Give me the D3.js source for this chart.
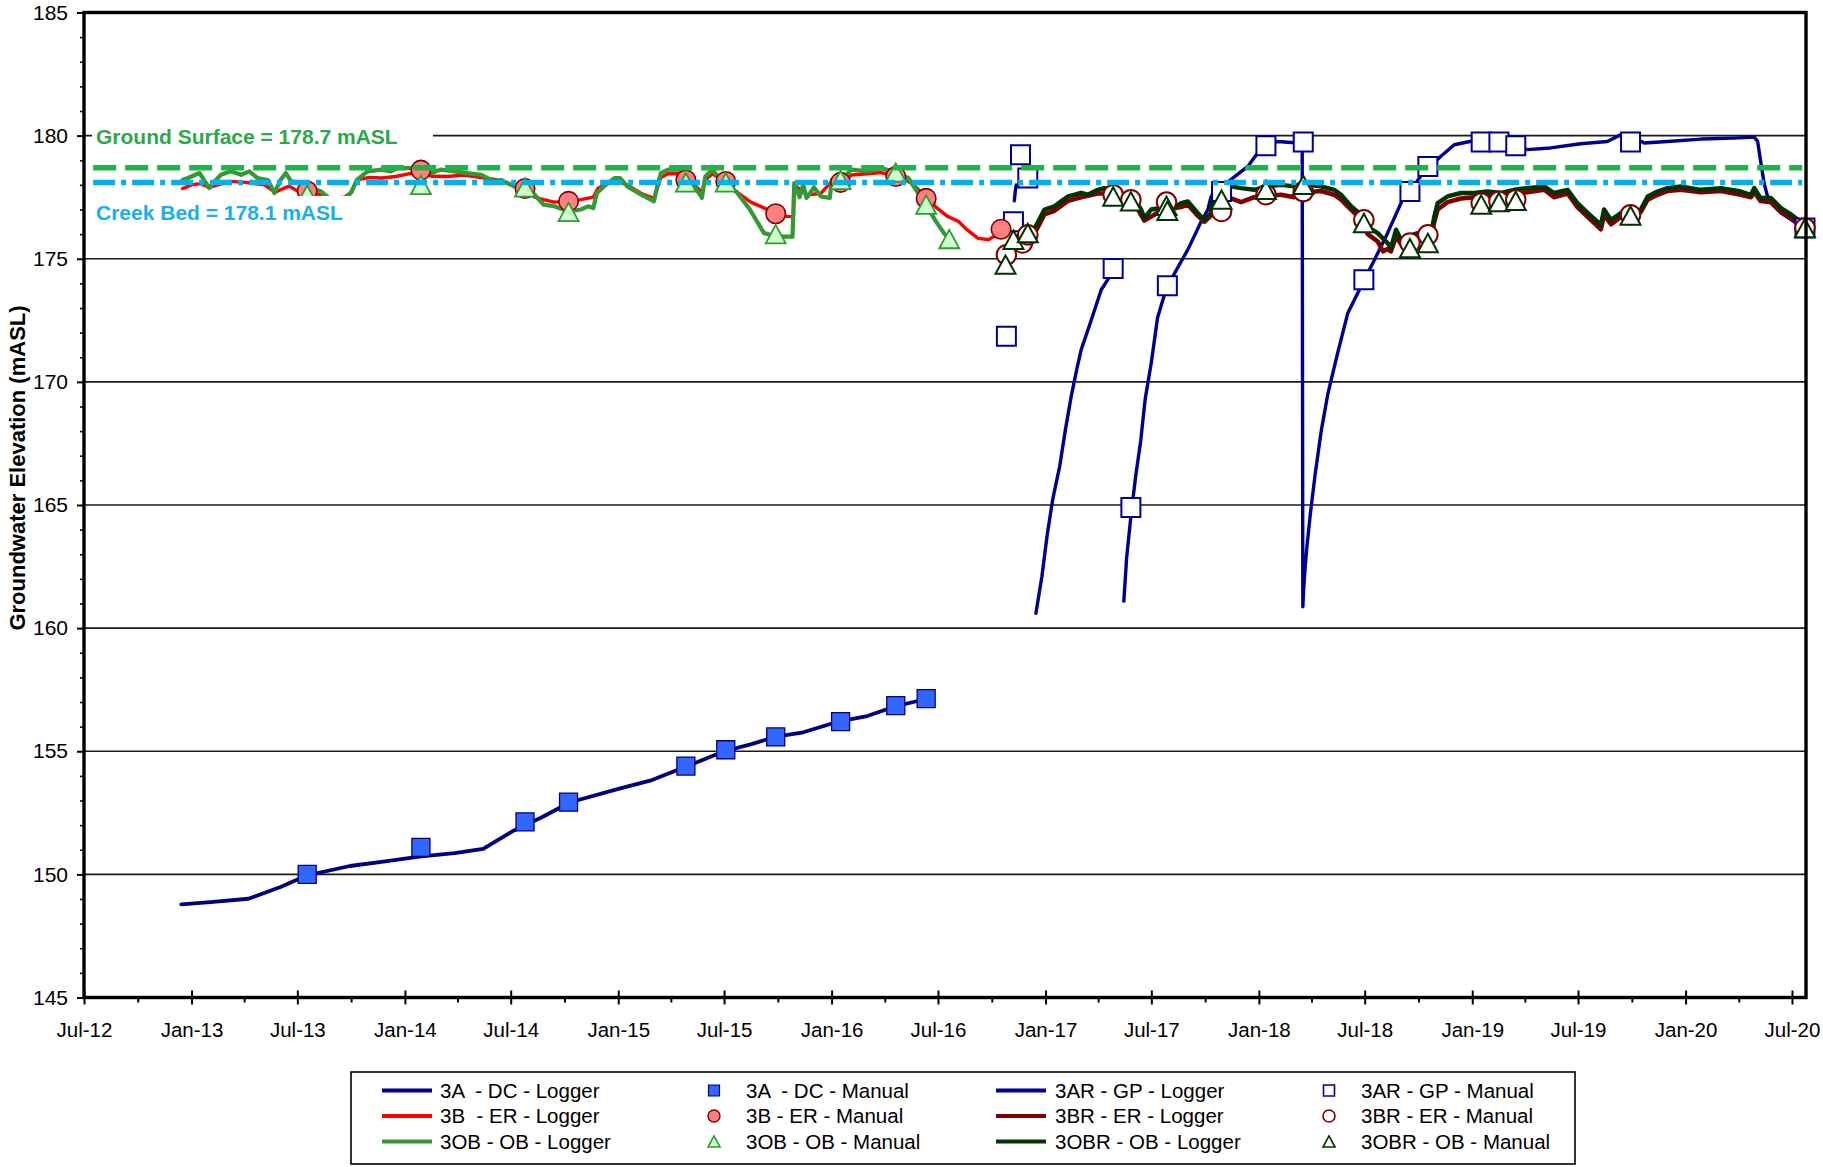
<!DOCTYPE html>
<html><head><meta charset="utf-8">
<script src="https://cdn.jsdelivr.net/npm/d3@7"></script>
<style>
body{margin:0;background:#fff}
text{font-family:"Liberation Sans",Arial,Helvetica,sans-serif}
</style>
</head><body>
<svg id="chart" width="1823" height="1167"></svg>
<script>
// ---------------- DATA (dates as decimal years, values in mASL) ----------------
const yTicks = [145,150,155,160,165,170,175,180,185];
const xTickLabels = ["Jul-12","Jan-13","Jul-13","Jan-14","Jul-14","Jan-15","Jul-15","Jan-16","Jul-16","Jan-17","Jul-17","Jan-18","Jul-18","Jan-19","Jul-19","Jan-20","Jul-20"];
const xMinorLabels = ["Oct-12","Apr-13","Oct-13","Apr-14","Oct-14","Apr-15","Oct-15","Apr-16","Oct-16","Apr-17","Oct-17","Apr-18","Oct-18","Apr-19","Oct-19","Apr-20"];

const groundSurface = 178.7;
const creekBed = 178.1;
const refSpan = [2012.54, 2020.545];

const logger3A = [[2012.952,148.78],[2013.088,148.87],[2013.267,149.01],[2013.417,149.49],[2013.542,149.96],[2013.742,150.34],[2013.908,150.53],[2014.067,150.72],[2014.233,150.86],[2014.367,151.04],[2014.504,151.75],[2014.642,152.32],[2014.775,152.93],[2014.992,153.45],[2015.158,153.83],[2015.325,154.40],[2015.5,155.01],[2015.625,155.29],[2015.733,155.58],[2015.867,155.77],[2016.029,156.20],[2016.167,156.43],[2016.292,156.81],[2016.383,157.0],[2016.467,157.18]];

const logger3B = [[2012.958,177.85],[2013.0,178.0],[2013.042,178.05],[2013.083,177.9],[2013.125,178.0],[2013.183,178.14],[2013.25,178.1],[2013.342,178.0],[2013.392,177.7],[2013.417,177.8],[2013.458,177.95],[2013.5,177.73],[2013.542,177.73],[2013.583,177.65],[2013.65,177.45],[2013.717,177.5],[2013.75,177.7],[2013.775,178.2],[2013.833,178.3],[2013.892,178.28],[2013.958,178.34],[2014.017,178.45],[2014.075,178.5],[2014.125,178.35],[2014.2,178.34],[2014.275,178.4],[2014.358,178.3],[2014.433,178.2],[2014.513,177.95],[2014.563,177.85],[2014.608,177.5],[2014.65,177.4],[2014.7,177.3],[2014.767,177.33],[2014.825,177.4],[2014.883,177.5],[2014.904,177.85],[2014.933,178.0],[2014.983,178.2],[2015.042,178.0],[2015.108,177.65],[2015.167,177.45],[2015.183,177.9],[2015.2,178.3],[2015.233,178.45],[2015.292,178.45],[2015.317,178.2],[2015.358,178.0],[2015.392,177.7],[2015.408,178.2],[2015.442,178.45],[2015.483,178.2],[2015.508,178.14],[2015.542,177.8],[2015.621,177.3],[2015.7,177.0],[2015.742,176.83],[2015.792,176.72],[2015.821,176.7],[2015.825,178.0],[2015.883,177.6],[2015.95,177.65],[2015.996,178.1],[2016.046,178.1],[2016.092,178.4],[2016.167,178.45],[2016.233,178.5],[2016.3,178.34],[2016.375,178.07],[2016.442,177.5],[2016.483,177.13],[2016.542,176.72],[2016.592,176.52],[2016.633,176.18],[2016.683,175.84],[2016.733,175.77],[2016.758,175.9],[2016.8,176.2]];

const logger3OB = [[2012.958,178.2],[2012.983,178.28],[2013.038,178.48],[2013.058,178.2],[2013.083,177.87],[2013.108,178.14],[2013.138,178.41],[2013.183,178.55],[2013.233,178.41],[2013.271,178.55],[2013.308,178.28],[2013.358,178.2],[2013.388,177.67],[2013.417,178.2],[2013.442,178.48],[2013.467,178.14],[2013.517,178.07],[2013.55,177.9],[2013.608,177.73],[2013.667,177.3],[2013.717,177.4],[2013.75,177.73],[2013.775,178.2],[2013.825,178.55],[2013.892,178.62],[2013.933,178.55],[2013.967,178.68],[2014.033,178.68],[2014.075,178.41],[2014.125,178.48],[2014.167,178.62],[2014.233,178.55],[2014.292,178.48],[2014.358,178.41],[2014.417,178.14],[2014.45,178.2],[2014.513,177.94],[2014.563,177.8],[2014.608,177.6],[2014.65,177.2],[2014.7,177.13],[2014.767,176.92],[2014.825,177.0],[2014.858,177.13],[2014.883,177.06],[2014.9,177.67],[2014.933,177.94],[2014.983,178.28],[2015.008,178.28],[2015.042,177.94],[2015.108,177.6],[2015.167,177.33],[2015.183,177.94],[2015.2,178.48],[2015.233,178.62],[2015.292,178.62],[2015.317,178.1],[2015.358,177.94],[2015.392,177.47],[2015.408,178.34],[2015.442,178.62],[2015.483,178.14],[2015.508,178.1],[2015.558,177.67],[2015.617,177.0],[2015.683,176.04],[2015.742,175.9],[2015.817,175.9],[2015.825,178.07],[2015.85,177.5],[2015.867,178.0],[2015.883,177.47],[2015.917,177.9],[2015.95,177.53],[2015.992,177.47],[2016.0,178.2],[2016.046,178.2],[2016.092,178.62],[2016.167,178.55],[2016.233,178.68],[2016.3,178.5],[2016.358,178.28],[2016.4,177.73],[2016.442,177.2],[2016.483,176.58],[2016.525,176.04],[2016.55,175.8]];

const logger3AR = [[2016.854,177.35],[2016.858,177.7],[2016.863,178.0],[2016.9,null],
[2016.955,160.6],[2016.983,162.1],[2017.008,163.8],[2017.033,165.2],[2017.067,166.6],[2017.092,168.0],[2017.12,169.4],[2017.146,170.5],[2017.167,171.3],[2017.214,172.5],[2017.261,173.74],[2017.292,174.15],[2017.317,174.6],[2017.34,null],
[2017.367,161.1],[2017.38,162.85],[2017.402,164.7],[2017.423,166.2],[2017.446,167.6],[2017.467,169.3],[2017.496,170.8],[2017.525,172.6],[2017.57,173.9],[2017.604,174.4],[2017.667,175.37],[2017.729,176.5],[2017.761,177.0],[2017.775,177.5],[2017.817,177.9],[2017.867,178.2],[2017.948,178.75],[2017.995,179.3],[2018.037,179.59],[2018.088,179.76],[2018.151,179.72],[2018.203,179.74],[2018.206,160.87],[2018.21,161.6],[2018.217,162.5],[2018.225,163.3],[2018.242,164.7],[2018.263,166.2],[2018.292,168.0],[2018.323,169.5],[2018.369,171.17],[2018.417,172.8],[2018.463,173.6],[2018.494,174.15],[2018.542,174.96],[2018.603,176.04],[2018.666,177.26],[2018.682,177.53],[2018.708,177.73],[2018.758,178.35],[2018.802,178.75],[2018.853,179.16],[2018.916,179.63],[2018.994,179.77],[2019.042,179.74],[2019.125,179.74],[2019.204,179.6],[2019.258,179.43],[2019.367,179.5],[2019.508,179.67],[2019.633,179.76],[2019.7,180.05],[2019.742,180.0],[2019.806,179.7],[2019.915,179.76],[2020.071,179.86],[2020.225,179.9],[2020.321,179.94],[2020.337,179.76],[2020.35,179.0],[2020.367,178.07],[2020.383,177.53],[2020.414,177.13],[2020.446,176.86],[2020.508,176.5],[2020.555,176.38]];

const logger3BR = [[2016.908,175.7],[2016.947,176.0],[2016.995,176.8],[2017.042,176.95],[2017.105,177.35],[2017.167,177.5],[2017.245,177.65],[2017.323,177.65],[2017.37,177.4],[2017.417,177.25],[2017.463,176.55],[2017.542,176.95],[2017.635,177.1],[2017.667,177.2],[2017.713,176.75],[2017.744,176.5],[2017.776,176.75],[2017.783,177.2],[2017.833,177.3],[2017.87,177.45],[2017.917,177.3],[2017.978,177.5],[2018.042,177.55],[2018.104,177.6],[2018.167,177.5],[2018.228,177.7],[2018.291,177.75],[2018.353,177.6],[2018.385,177.4],[2018.432,177.0],[2018.478,176.6],[2018.51,176.0],[2018.557,175.7],[2018.583,175.3],[2018.603,175.4],[2018.619,175.3],[2018.643,175.9],[2018.666,175.6],[2018.698,175.7],[2018.744,175.85],[2018.807,175.9],[2018.822,176.5],[2018.838,177.0],[2018.884,177.3],[2018.947,177.45],[2019.009,177.5],[2019.072,177.55],[2019.134,177.5],[2019.197,177.65],[2019.258,177.7],[2019.338,177.8],[2019.383,177.5],[2019.447,177.65],[2019.493,177.1],[2019.541,176.7],[2019.603,176.2],[2019.618,176.8],[2019.65,176.4],[2019.697,176.7],[2019.742,176.65],[2019.79,176.9],[2019.822,177.4],[2019.868,177.6],[2019.915,177.75],[2019.978,177.8],[2020.071,177.7],[2020.165,177.75],[2020.258,177.6],[2020.305,177.5],[2020.321,177.7],[2020.35,177.35],[2020.398,177.3],[2020.446,176.9],[2020.493,176.65],[2020.555,176.3]];

const logger3OBR = [[2016.908,175.9],[2016.925,175.95],[2016.947,176.2],[2016.995,177.0],[2017.042,177.13],[2017.073,177.33],[2017.105,177.53],[2017.136,177.6],[2017.167,177.67],[2017.198,177.6],[2017.245,177.8],[2017.276,177.87],[2017.323,177.8],[2017.37,177.53],[2017.417,177.4],[2017.448,177.0],[2017.463,176.65],[2017.495,177.0],[2017.542,177.06],[2017.588,177.0],[2017.635,177.26],[2017.667,177.33],[2017.713,176.86],[2017.744,176.58],[2017.776,176.86],[2017.783,177.6],[2017.87,177.94],[2017.917,177.87],[2017.978,177.8],[2018.042,177.94],[2018.104,178.0],[2018.166,177.94],[2018.228,178.0],[2018.291,177.94],[2018.353,177.8],[2018.385,177.6],[2018.432,177.13],[2018.478,176.8],[2018.51,176.3],[2018.557,176.04],[2018.603,175.64],[2018.619,175.43],[2018.643,176.18],[2018.666,175.77],[2018.698,175.9],[2018.744,176.04],[2018.807,176.04],[2018.822,176.7],[2018.838,177.26],[2018.884,177.53],[2018.947,177.67],[2019.009,177.67],[2019.072,177.73],[2019.134,177.67],[2019.197,177.8],[2019.258,177.87],[2019.338,177.94],[2019.383,177.67],[2019.447,177.8],[2019.493,177.26],[2019.541,176.86],[2019.603,176.38],[2019.618,177.0],[2019.65,176.58],[2019.697,176.86],[2019.742,176.8],[2019.79,177.0],[2019.822,177.53],[2019.868,177.73],[2019.915,177.87],[2019.978,177.94],[2020.071,177.8],[2020.165,177.87],[2020.258,177.73],[2020.305,177.6],[2020.321,177.87],[2020.35,177.47],[2020.398,177.47],[2020.446,177.06],[2020.493,176.8],[2020.555,176.38]];

const manualDates1 = [2013.542,2014.075,2014.563,2014.767,2015.317,2015.504,2015.738,2016.042,2016.3,2016.442,2016.55,2016.792];
const manual3A  = [150.0,151.1,152.13,152.93,154.4,155.06,155.58,156.2,156.85,157.14,null,null];
const manual3B  = [177.75,178.6,177.85,177.33,178.2,178.14,176.83,178.1,178.34,177.45,null,176.2];
const manual3OB = [177.6,178.0,177.9,176.9,178.1,178.1,176.0,178.2,178.5,177.2,175.8,null];

const manual3ARDates = [2016.817,2016.85,2016.883,2016.917,2017.317,2017.4,2017.571,2017.825,2018.033,2018.208,2018.492,2018.708,2018.792,2019.042,2019.125,2019.204,2019.742,2020.558];
const manual3AR = [171.85,176.5,179.22,178.28,174.6,164.9,173.9,177.73,179.59,179.74,174.15,177.73,178.75,179.74,179.74,179.59,179.74,176.25];

const manualDates2 = [2016.813,2016.817,2016.85,2016.892,2016.917,2017.317,2017.4,2017.567,2017.571,2017.825,2018.033,2018.208,2018.492,2018.708,2018.792,2019.042,2019.125,2019.204,2019.742,2020.558];
const manual3BR  = [null,175.16,null,175.64,175.97,177.6,177.4,177.3,null,176.92,177.6,177.73,176.58,175.64,175.97,177.26,177.33,177.4,176.79,176.25];
const manual3OBR = [174.76,null,175.77,null,176.04,177.53,177.33,177.15,176.95,177.4,177.8,178.0,176.45,175.43,175.64,177.2,177.3,177.35,176.75,176.25];

const legendLabels = [
  ["3A  - DC - Logger","3B  - ER - Logger","3OB - OB - Logger"],
  ["3A  - DC - Manual","3B - ER - Manual","3OB - OB - Manual"],
  ["3AR - GP - Logger","3BR - ER - Logger","3OBR - OB - Logger"],
  ["3AR - GP - Manual","3BR - ER - Manual","3OBR - OB - Manual"]
];

// ---------------- HELPERS ----------------
function dec(v){ const yr=Math.floor(v); const s=new Date(yr,0,1), e=new Date(yr+1,0,1); return new Date(+s+(v-yr)*(e-s)); }
const parseTick = d3.timeParse("%b-%y");

const svg = d3.select("#chart");
const L=84, R=1806, T=12.5, B=997.5;
const x = d3.scaleTime().domain([new Date(2012,6,1), new Date(2020,6,25)]).range([L,R]);
const y = d3.scaleLinear().domain([145,185]).range([B,T]);

const symSquare = {draw(ctx,size){const s=Math.sqrt(size)/2; ctx.rect(-s,-s,2*s,2*s);}};
const symTri = {draw(ctx,size){const w=Math.sqrt(size); const h=w*0.92; ctx.moveTo(0,-h/2); ctx.lineTo(w/2,h/2); ctx.lineTo(-w/2,h/2); ctx.closePath();}};
const symCircle = {draw(ctx,size){const r=Math.sqrt(size)/2; ctx.moveTo(r,0); ctx.arc(0,0,r,0,2*Math.PI);}};

// ---------------- GRIDLINES ----------------
svg.append("g").selectAll("line").data(yTicks.filter(v=>v>145 && v<185)).join("line")
  .attr("x1",L).attr("x2",R).attr("y1",d=>y(d)).attr("y2",d=>y(d))
  .attr("stroke","#1a1a1a").attr("stroke-width",1.6);

// ---------------- LINES ----------------
const line = d3.line().defined(d=>d[1]!=null).x(d=>x(dec(d[0]))).y(d=>y(d[1]));
const gl = svg.append("g").attr("fill","none").attr("stroke-linejoin","round").attr("stroke-linecap","round");
function drawLine(data,color,w){ gl.append("path").attr("d",line(data)).attr("stroke",color).attr("stroke-width",w); }
drawLine(logger3A,"#000080",3.8);
drawLine(logger3B,"#ff0000",3.4);
drawLine(logger3OB,"#339933",4.2);
drawLine(logger3AR,"#000090",3.4);
drawLine(logger3BR,"#800000",4.6);
drawLine(logger3OBR,"#003300",4.4);

// ---------------- MARKERS ----------------
const gm = svg.append("g");
function drawMarkers(dates,vals,sym,size,fill,stroke,sw){
  const pts = dates.map((d,i)=>[d,vals[i]]).filter(p=>p[1]!=null);
  gm.append("g").selectAll("path").data(pts).join("path")
    .attr("transform",p=>`translate(${x(dec(p[0]))},${y(p[1])})`)
    .attr("d",d3.symbol(sym,size)())
    .attr("fill",fill).attr("stroke",stroke).attr("stroke-width",sw);
}
drawMarkers(manual3ARDates,manual3AR,symSquare,19*19,"#fff","#000099",2);
drawMarkers(manualDates1,manual3A,symSquare,18*18,"#3366ff","#000080",1.3);
drawMarkers(manualDates1,manual3B,symCircle,19.5*19.5,"#ff8080","#800000",1.6);
drawMarkers(manualDates1,manual3OB,symTri,20*20,"#ccffcc","#339933",1.8);
drawMarkers(manualDates2,manual3BR,symCircle,19.5*19.5,"#fff","#800000",2);
drawMarkers(manualDates2,manual3OBR,symTri,20*20,"#fff","#003300",2);

// ---------------- REFERENCE LINES ----------------
svg.append("line").attr("x1",x(dec(refSpan[0]))).attr("x2",x(dec(refSpan[1])))
  .attr("y1",y(groundSurface)).attr("y2",y(groundSurface))
  .attr("stroke","#22b14c").attr("stroke-width",5.5).attr("stroke-dasharray","23,9");
svg.append("line").attr("x1",x(dec(refSpan[0]))).attr("x2",x(dec(refSpan[1])))
  .attr("y1",y(creekBed)).attr("y2",y(creekBed))
  .attr("stroke","#00b0f0").attr("stroke-width",5.5).attr("stroke-dasharray","22,6,5,6");

// ---------------- LABELS ----------------
svg.append("rect").attr("x",L+8).attr("y",124).attr("width",341).attr("height",26).attr("fill","#fff");
svg.append("text").attr("x",96).attr("y",144).attr("font-size",21).attr("font-weight","bold")
  .attr("fill","#2ba84a").text(`Ground Surface = ${groundSurface} mASL`);
svg.append("rect").attr("x",L+8).attr("y",196).attr("width",258).attr("height",33).attr("fill","#fff");
svg.append("text").attr("x",96).attr("y",220).attr("font-size",21).attr("font-weight","bold")
  .attr("fill","#17b0ea").text(`Creek Bed = ${creekBed} mASL`);

// ---------------- AXES ----------------
const xMajor = xTickLabels.map(parseTick);
const xMinor = xMinorLabels.map(parseTick);
const fmt = d3.timeFormat("%b-%y");

const ax = svg.append("g").attr("transform",`translate(0,${B})`)
  .call(d3.axisBottom(x).tickValues(xMajor).tickFormat(fmt).tickSizeInner(7).tickSizeOuter(0).tickPadding(17.5));
ax.select(".domain").remove();
ax.selectAll("line").attr("stroke","#000").attr("stroke-width",2);
ax.selectAll("text").attr("font-size",20.5).attr("fill","#000").attr("font-family","Liberation Sans, Arial, sans-serif");

const axIn = svg.append("g").attr("transform",`translate(0,${B})`)
  .call(d3.axisBottom(x).tickValues(xMajor).tickFormat("").tickSizeInner(-7).tickSizeOuter(0));
axIn.select(".domain").remove();
axIn.selectAll("line").attr("stroke","#000").attr("stroke-width",2);

const axMin = svg.append("g").attr("transform",`translate(0,${B})`)
  .call(d3.axisBottom(x).tickValues(xMinor).tickFormat("").tickSizeInner(5).tickSizeOuter(0));
axMin.select(".domain").remove();
axMin.selectAll("line").attr("stroke","#000").attr("stroke-width",2);

const ay = svg.append("g").attr("transform",`translate(${L},0)`)
  .call(d3.axisLeft(y).tickValues(yTicks).tickFormat(d3.format("d")).tickSizeInner(7).tickSizeOuter(0).tickPadding(9));
ay.select(".domain").remove();
ay.selectAll("line").attr("stroke","#000").attr("stroke-width",2);
ay.selectAll("text").attr("font-size",21).attr("fill","#000").attr("font-family","Liberation Sans, Arial, sans-serif");

const yMinor = d3.range(146,185).filter(v=>v%5!==0);
const ayMin = svg.append("g").attr("transform",`translate(${L},0)`)
  .call(d3.axisLeft(y).tickValues(yMinor).tickFormat("").tickSizeInner(4).tickSizeOuter(0));
ayMin.select(".domain").remove();
ayMin.selectAll("line").attr("stroke","#000").attr("stroke-width",1.6);

// frame
svg.append("rect").attr("x",L).attr("y",T).attr("width",R-L).attr("height",B-T)
  .attr("fill","none").attr("stroke","#000").attr("stroke-width",3.4);

// axis title
svg.append("text").attr("transform",`translate(25,468) rotate(-90)`).attr("text-anchor","middle")
  .attr("font-size",22).attr("font-weight","bold").attr("fill","#000")
  .text("Groundwater Elevation (mASL)");

// ---------------- LEGEND ----------------
const lg = svg.append("g");
lg.append("rect").attr("x",351).attr("y",1072).attr("width",1224).attr("height",92)
  .attr("fill","#fff").attr("stroke","#000").attr("stroke-width",1.6);
const rowsY = [1090.5,1116,1141.5];
const colSpec = [
  {kind:"line", x0:382, x1:432, tx:440, styles:[["#000080"],["#ff0000"],["#339933"]]},
  {kind:"mark", mx:714, tx:746, styles:[[symSquare,"#3366ff","#000080",1.2,11*11],[symCircle,"#ff8080","#800000",1.4,12*12],[symTri,"#ccffcc","#339933",1.6,12*12]]},
  {kind:"line", x0:996, x1:1046, tx:1055, styles:[["#000090"],["#800000"],["#003300"]]},
  {kind:"mark", mx:1329, tx:1361, styles:[[symSquare,"#fff","#000099",1.6,11*11],[symCircle,"#fff","#800000",1.6,12*12],[symTri,"#fff","#003300",1.6,12*12]]}
];
colSpec.forEach((c,ci)=>{
  rowsY.forEach((ry,ri)=>{
    const st=c.styles[ri];
    if(c.kind==="line"){
      lg.append("line").attr("x1",c.x0).attr("x2",c.x1).attr("y1",ry).attr("y2",ry)
        .attr("stroke",st[0]).attr("stroke-width",4);
    } else {
      lg.append("path").attr("transform",`translate(${c.mx},${ry})`).attr("d",d3.symbol(st[0],st[4])())
        .attr("fill",st[1]).attr("stroke",st[2]).attr("stroke-width",st[3]);
    }
    lg.append("text").attr("x",c.tx).attr("y",ry).attr("dy","0.35em").attr("font-size",20.5).attr("fill","#000")
      .style("white-space","pre").text(legendLabels[ci][ri]);
  });
});
</script>
</body></html>
